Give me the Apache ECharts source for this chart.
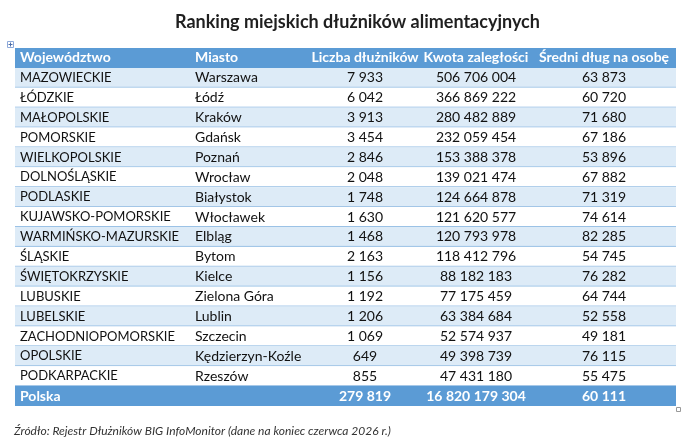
<!DOCTYPE html>
<html>
<head>
<meta charset="utf-8">
<script src="https://cdn.jsdelivr.net/npm/echarts@6/dist/echarts.min.js"></script>
<style>
html, body { margin: 0; padding: 0; background: #fff; }
#main { width: 688px; height: 446px; }
</style>
</head>
<body>
<div id="main"></div>
<script>
// dane tabeli
var headers = ['Województwo', 'Miasto', 'Liczba dłużników', 'Kwota zaległości', 'Średni dług na osobę'];
var regions = ['MAZOWIECKIE', 'ŁÓDZKIE', 'MAŁOPOLSKIE', 'POMORSKIE', 'WIELKOPOLSKIE', 'DOLNOŚLĄSKIE',
  'PODLASKIE', 'KUJAWSKO-POMORSKIE', 'WARMIŃSKO-MAZURSKIE', 'ŚLĄSKIE', 'ŚWIĘTOKRZYSKIE', 'LUBUSKIE',
  'LUBELSKIE', 'ZACHODNIOPOMORSKIE', 'OPOLSKIE', 'PODKARPACKIE'];
var cities = ['Warszawa', 'Łódź', 'Kraków', 'Gdańsk', 'Poznań', 'Wrocław', 'Białystok', 'Włocławek',
  'Elbląg', 'Bytom', 'Kielce', 'Zielona Góra', 'Lublin', 'Szczecin', 'Kędzierzyn-Koźle', 'Rzeszów'];
var debtors = [7933, 6042, 3913, 3454, 2846, 2048, 1748, 1630, 1468, 2163, 1156, 1192, 1206, 1069, 649, 855];
var amounts = [506706004, 366869222, 280482889, 232059454, 153388378, 139021474, 124664878, 121620577,
  120793978, 118412796, 88182183, 77175459, 63384684, 52574937, 49398739, 47431180];
var avgDebt = [63873, 60720, 71680, 67186, 53896, 67882, 71319, 74614, 82285, 54745, 76282, 64744,
  52558, 49181, 76115, 55475];
var totalLabel = 'Polska';
var totalValues = [279819, 16820179304, 60111];

// szerokosci kolumn (uklad)
var colWidths = [175, 120, 110, 112, 144];
var colAlign = ['left', 'left', 'center', 'center', 'center'];

var colStart = [];
var acc = 0;
for (var i = 0; i < colWidths.length; i++) {
  colStart.push(acc);
  acc += colWidths[i];
}
var tableWidth = acc;

function fmt(n) {
  return String(n).replace(/\B(?=(\d{3})+(?!\d))/g, ' ');
}

// wiersze: naglowek, dane, suma
var rowCount = regions.length + 2;
var rowKeys = [];
for (var r = 0; r < rowCount; r++) rowKeys.push('r' + r);

function cellText(c, r) {
  if (r === 0) return headers[c];
  if (r === rowCount - 1) {
    if (c === 0) return totalLabel;
    if (c === 1) return '';
    return fmt(totalValues[c - 2]);
  }
  var k = r - 1;
  if (c === 0) return regions[k];
  if (c === 1) return cities[k];
  if (c === 2) return fmt(debtors[k]);
  if (c === 3) return fmt(amounts[k]);
  return fmt(avgDebt[k]);
}

var cells = [];
for (var r = 0; r < rowCount; r++) {
  for (var c = 0; c < headers.length; c++) {
    cells.push([c, r]);
  }
}

var FONT = 'Lato, "Open Sans", sans-serif';

var myChart = echarts.init(document.getElementById('main'));
option = {
  animation: false,
  title: {
    text: 'Ranking miejskich dłużników alimentacyjnych',
    left: 170,
    top: 8,
    textStyle: { fontFamily: FONT, fontSize: 18, fontWeight: 'bold', color: '#1f1f1f' }
  },
  grid: { left: 15, right: 12, top: 48, bottom: 40 },
  xAxis: { type: 'value', min: 0, max: tableWidth, show: false },
  yAxis: { type: 'category', data: rowKeys, inverse: true, show: false },
  graphic: [
    {
      type: 'text', left: 14, top: 425,
      style: { text: 'Źródło: Rejestr Dłużników BIG InfoMonitor (dane na koniec czerwca 2026 r.)',
        fontFamily: FONT, fontSize: 12, fontStyle: 'italic', fill: '#333' }
    },
    {
      type: 'group', left: 6, top: 40,
      children: [
        { type: 'rect', shape: { x: 0, y: 0, width: 6, height: 6 },
          style: { fill: '#fff', stroke: '#8eaadb', lineWidth: 1 } },
        { type: 'line', shape: { x1: 3, y1: 1, x2: 3, y2: 5 }, style: { stroke: '#4f6fa8', lineWidth: 1 } },
        { type: 'line', shape: { x1: 1, y1: 3, x2: 5, y2: 3 }, style: { stroke: '#4f6fa8', lineWidth: 1 } }
      ]
    },
    {
      type: 'rect', left: 676, top: 407,
      shape: { width: 4, height: 4 },
      style: { fill: '#fff', stroke: '#999', lineWidth: 1 }
    }
  ],
  series: [{
    type: 'custom',
    data: cells,
    encode: { x: 0, y: 1 },
    renderItem: function (params, api) {
      var c = api.value(0);
      var r = api.value(1);
      var p0 = api.coord([colStart[c], r]);
      var p1 = api.coord([colStart[c] + colWidths[c], r]);
      var h = api.size([0, 1])[1];
      var top = p0[1] - h / 2;
      var isHead = r === 0 || r === rowCount - 1;
      var fill = isHead ? '#5b9bd5' : (r % 2 === 1 ? '#ddebf7' : '#ffffff');
      var tx = colAlign[c] === 'left' ? p0[0] + 5 : (p0[0] + p1[0]) / 2;
      var children = [{
        type: 'rect',
        shape: { x: p0[0], y: top, width: p1[0] - p0[0], height: h },
        style: { fill: fill }
      }];
      if (!isHead) {
        children.push({
          type: 'line',
          shape: { x1: p0[0], y1: top + h - 0.5, x2: p1[0], y2: top + h - 0.5 },
          style: { stroke: '#9bc2e6', lineWidth: 1 }
        });
      }
      children.push({
        type: 'text',
        style: {
          x: tx, y: p0[1],
          text: cellText(c, r),
          align: colAlign[c], verticalAlign: 'middle',
          fontFamily: FONT,
          fontSize: (c === 0 && !isHead) ? 13 : 14,
          fontWeight: isHead ? 'bold' : 'normal',
          fill: isHead ? '#ffffff' : '#111111'
        }
      });
      return { type: 'group', children: children };
    }
  }]
};
myChart.setOption(option, true);
</script>
</body>
</html>
